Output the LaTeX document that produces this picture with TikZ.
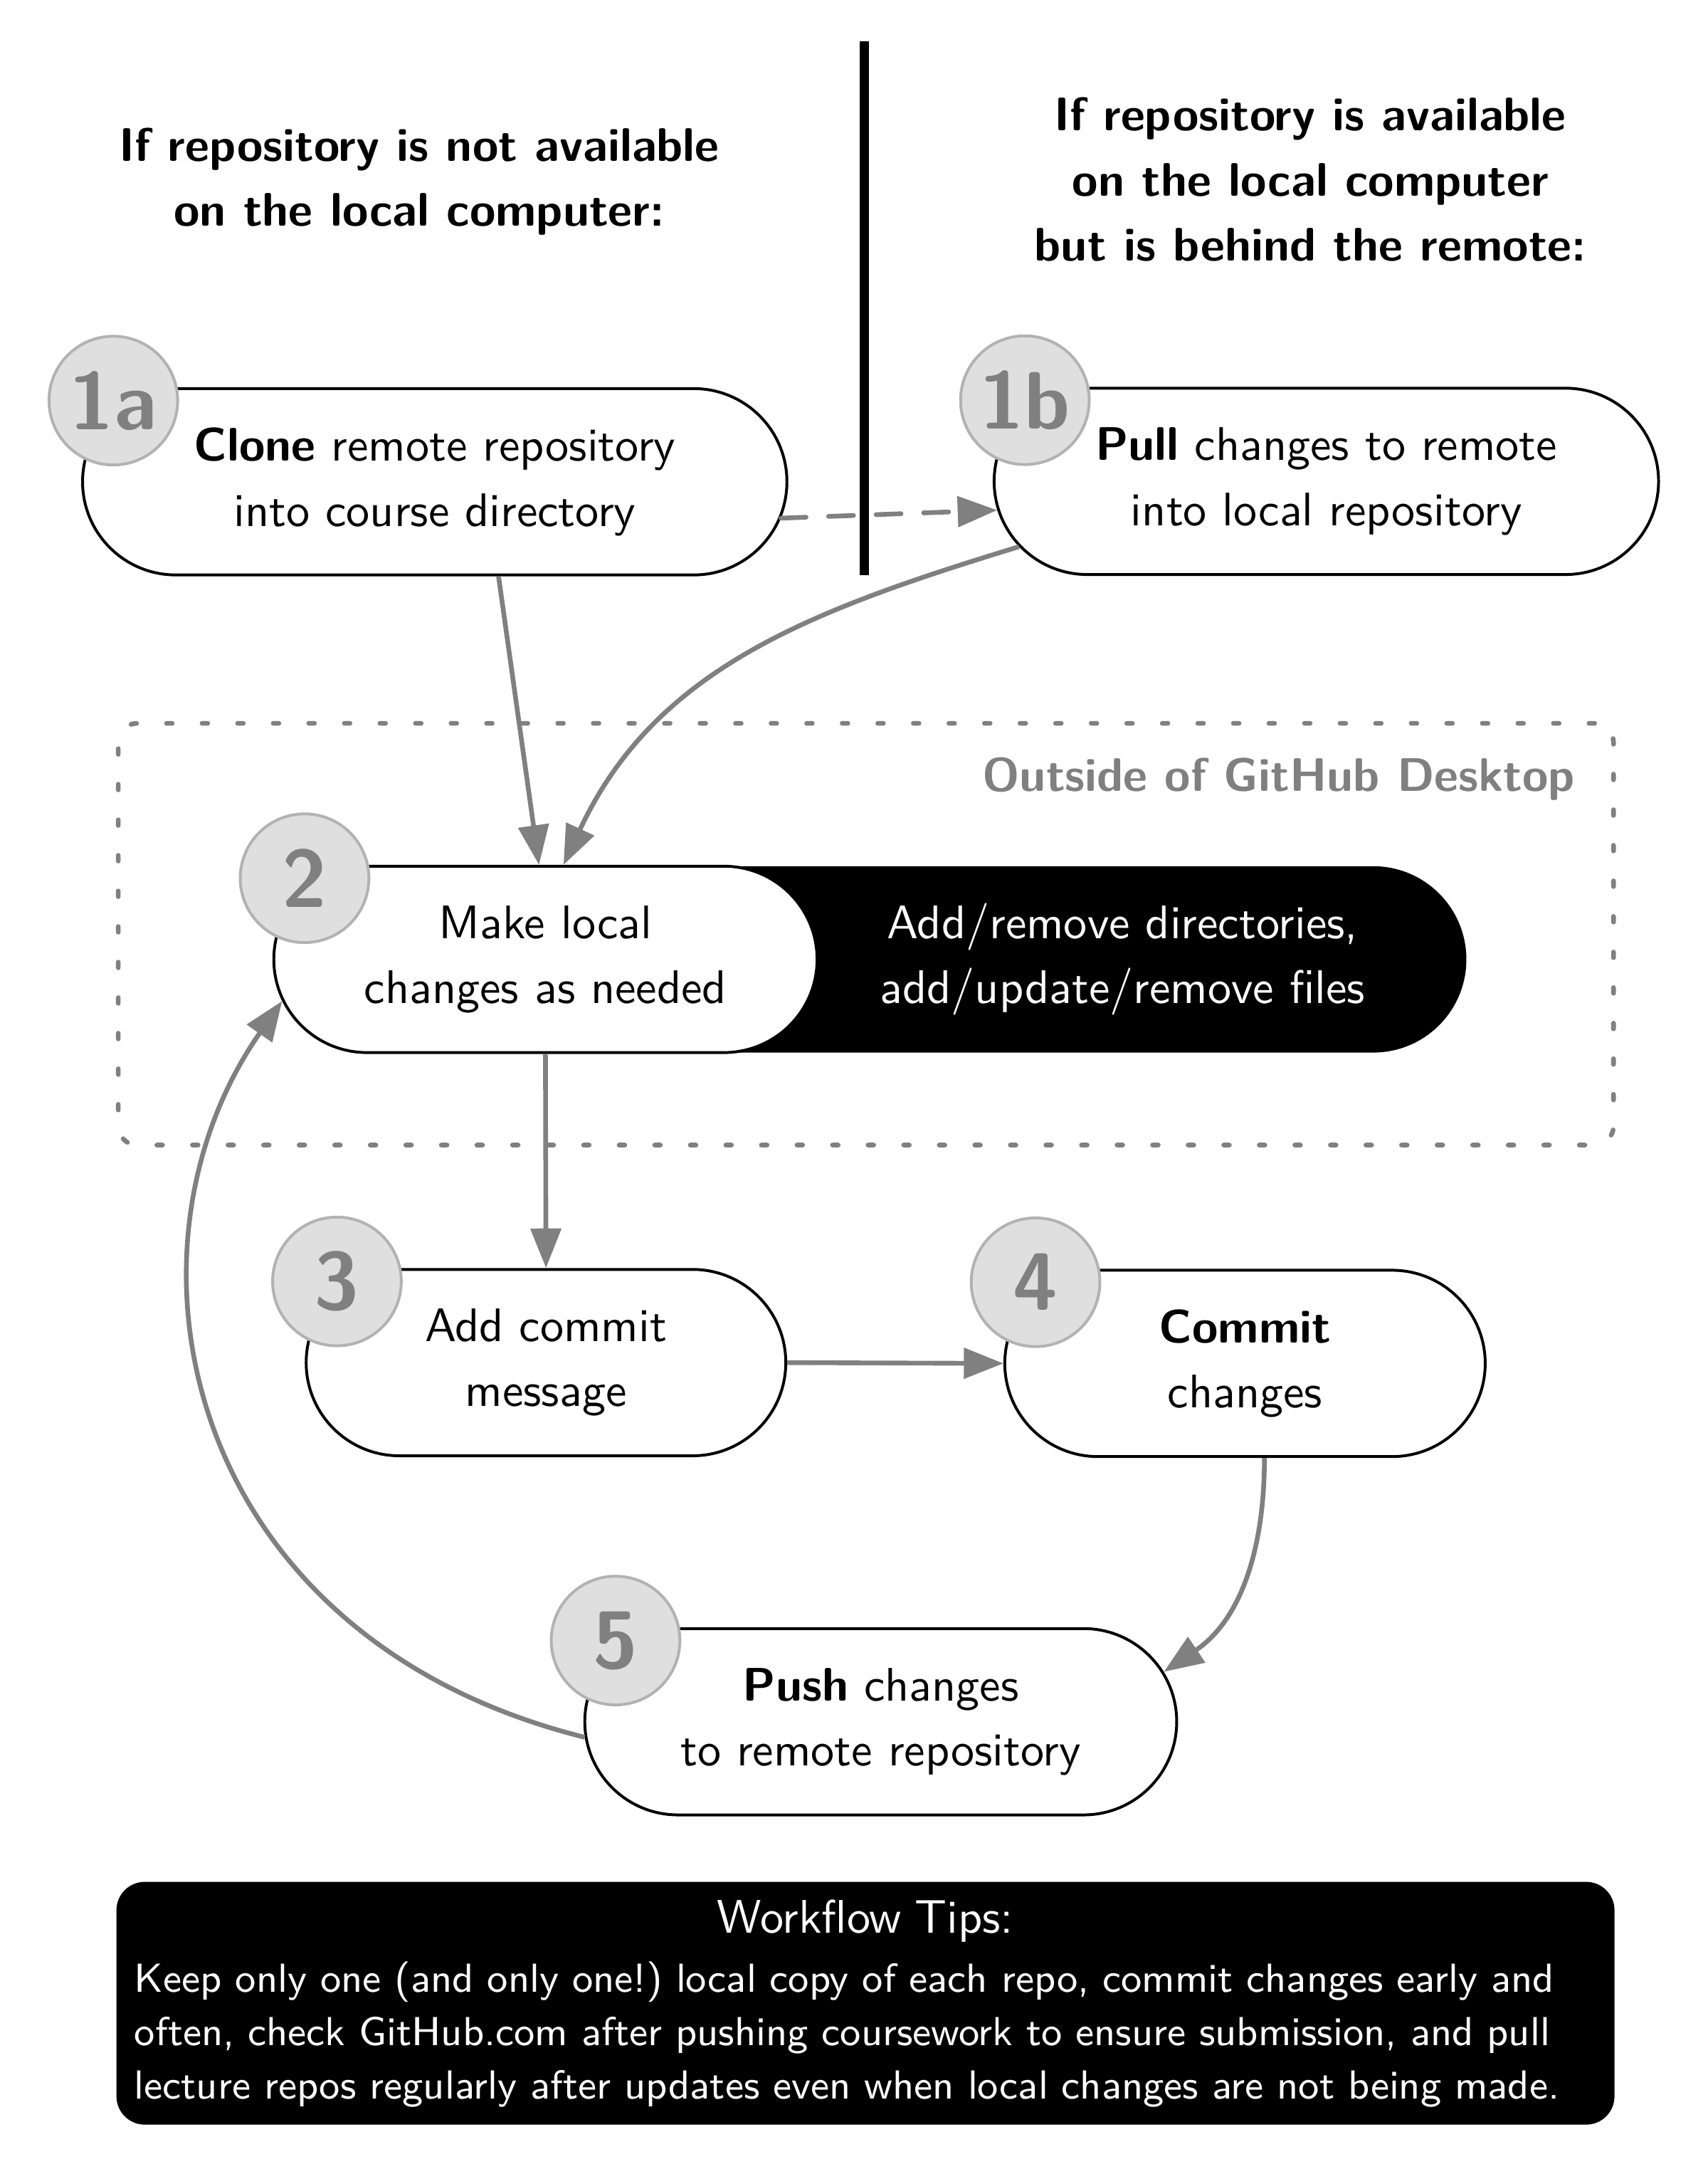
\RequirePackage{fix-cm}
\documentclass[tikz,border=0pt]{standalone}
\usepackage{tikz}
\usetikzlibrary{arrows.meta,shapes.misc}

\begin{document}
\begin{tikzpicture}[
  stp/.style={
    rounded rectangle, draw, semithick, fill=white,
    minimum height=1.39cm, align=center,
    font=\sffamily\linespread{1.15}\selectfont
  },
  drk/.style={
    rounded rectangle, fill=black,
    minimum height=1.39cm
  },
  inv/.style={
    align=center, text=white,
    font=\sffamily\linespread{1.15}\selectfont
  },
  bdg/.style={
    circle, draw=gray!60, fill=gray!25, line width=0.6pt,
    inner sep=0pt, minimum size=0.96cm,
    text=gray, font=\sffamily\bfseries\LARGE
  },
  hdr/.style={
    align=center,
    font=\sffamily\bfseries\linespread{1.15}\selectfont
  },
  frm/.style={
    draw=gray, line width=1pt, line cap=round,
    dash pattern=on 1.2pt off 6.35pt, rounded corners=4pt
  },
  tips/.style={
    fill=black, text=white, rounded corners=6pt,
    text width=10.91cm, inner xsep=0.134cm, align=left,
    minimum height=1.811cm,
    font=\sffamily\fontsize{8.6}{11.3}\selectfont\frenchspacing
  },
  flw/.style={
    draw=gray, line width=1pt,
    -{Triangle[length=8.4pt,width=6.4pt]}
  }
]
  \useasboundingbox (0,0) rectangle (12.74,-16.218);

  \node[frm, minimum width=11.157cm, minimum height=3.146cm] (out) at (6.461,-6.969){};
  \node[anchor=east, text=gray, font=\sffamily\bfseries] (outl) at (11.875,-5.812){Outside of GitHub Desktop};

  \node[hdr] (hl) at (3.128,-1.355){If repository is not available\\on the local computer:};
  \node[hdr] (hr) at (9.778,-1.339){If repository is available\\on the local computer\\but is behind the remote:};

  \node[stp, minimum width=5.49cm] (c1a) at (3.244,-3.594){\textbf{Clone} remote repository\\into course directory};
  \node[stp, minimum width=5.192cm] (c1b) at (9.897,-3.591){\textbf{Pull} changes to remote\\into local repository};
  \node[drk, minimum width=8.384cm] (d2) at (6.867,-7.157){};
  \node[inv] (d2t) at (8.376,-7.157){Add/remove directories,\\add/update/remove files};
  \node[stp, minimum width=4.288cm] (c2) at (4.070,-7.157){Make local\\changes as needed};
  \node[stp, minimum width=3.813cm] (c3) at (4.074,-10.165){Add commit\\message};
  \node[stp, minimum width=3.819cm] (c4) at (9.290,-10.171){\textbf{Commit}\\changes};
  \node[stp, minimum width=4.651cm] (c5) at (6.572,-12.844){\textbf{Push} changes\\to remote repository};

  \draw[flw] ([xshift=0.476cm]c1a.south) -- ([xshift=-0.048cm]c2.north);
  \draw[flw] (c1b.192) to[out=197, in=65] ([xshift=0.135cm]c2.north);
  \draw[flw, dash pattern=on 5.3pt off 4.8pt, line cap=round] (c1a.-6.3) -- (c1b.185.3);
  \draw[flw] (c2.south) -- (c3.north);
  \draw[flw] (c3.east) -- (c4.west);
  \draw[flw] ([xshift=0.145cm]c4.south) to[out=-90, in=34] (c5.10);
  \draw[flw] (c5.183) .. controls +(166:3.1) and +(235:2.28) .. (c2.189);

  \draw[line width=2pt] (6.449,-0.31) -- (6.449,-4.292);

  \foreach \n/\t in {c1a/1a,c1b/1b,c2/2,c3/3,c4/4,c5/5} {
    \path (\n.west |- \n.north) ++(0.24,-0.1) node[bdg] (b\t){\t};
  }

  \node[tips] (tip) at (6.458,-14.944){\makebox[\linewidth]{\fontsize{10}{12}\selectfont Workflow Tips:}\\[1.3pt]
    Keep only one (and only one!) local copy of each repo, commit changes early and\\
    often, check GitHub.com after pushing coursework to ensure submission, and pull\\
    lecture repos regularly after updates even when local changes are not being made.};
\end{tikzpicture}
\end{document}
